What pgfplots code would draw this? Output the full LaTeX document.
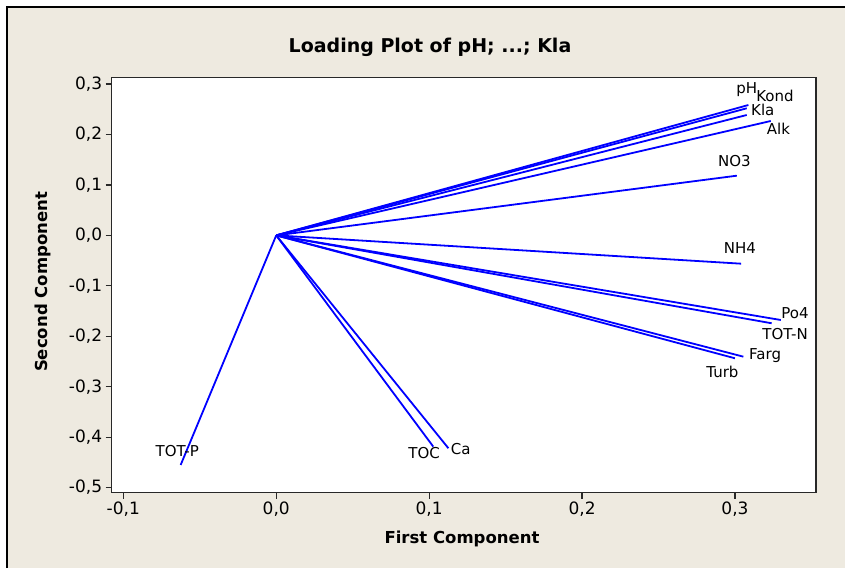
\documentclass[border=0pt]{standalone}
\usepackage{fontspec}
\setmainfont{DejaVu Sans}
\usepackage{pgfplots}
\pgfplotsset{compat=1.18}
\definecolor{bg}{RGB}{238,234,224}
\definecolor{frame}{RGB}{40,40,40}
\begin{document}
\begin{tikzpicture}
\path[use as bounding box] (0,0) rectangle (845pt,568pt);
\fill[white] (0,0) rectangle (845pt,568pt);
\fill[bg] (7pt,0) rectangle (845pt,561pt);
\draw[black, line width=1.5pt] (7pt,0) -- (7pt,561pt) -- (845pt,561pt);
\begin{axis}[
  at={(111.7pt,75.3pt)}, anchor=south west,
  scale only axis, width=704.3pt, height=415.4pt,
  xmin=-0.1076, xmax=0.353, ymin=-0.51, ymax=0.3133,
  axis background/.style={fill=white},
  axis line style={frame, line width=1.3pt},
  tick style={frame, line width=1.2pt},
  tick align=outside, major tick length=6pt,
  xtick={-0.1,0,0.1,0.2,0.3},
  ytick={-0.5,-0.4,-0.3,-0.2,-0.1,0,0.1,0.2,0.3},
  xtick pos=bottom, ytick pos=left,
  tick label style={font=\fontsize{17}{20}\selectfont},
  /pgf/number format/.cd, use comma, fixed, fixed zerofill, precision=1, assume math mode=true,
]
\addplot[blue, line width=1.8pt] coordinates {(0,0) (0.3088,0.2584)};
\addplot[blue, line width=1.8pt] coordinates {(0,0) (0.3077,0.2519)};
\addplot[blue, line width=1.8pt] coordinates {(0,0) (0.3077,0.2386)};
\addplot[blue, line width=1.8pt] coordinates {(0,0) (0.3234,0.2267)};
\addplot[blue, line width=1.8pt] coordinates {(0,0) (0.3012,0.1183)};
\addplot[blue, line width=1.8pt] coordinates {(0,0) (0.3040,-0.0561)};
\addplot[blue, line width=1.8pt] coordinates {(0,0) (0.3300,-0.1677)};
\addplot[blue, line width=1.8pt] coordinates {(0,0) (0.3240,-0.1742)};
\addplot[blue, line width=1.8pt] coordinates {(0,0) (0.3055,-0.2404)};
\addplot[blue, line width=1.8pt] coordinates {(0,0) (0.3000,-0.2436)};
\addplot[blue, line width=1.8pt] coordinates {(0,0) (-0.0625,-0.4550)};
\addplot[blue, line width=1.8pt] coordinates {(0,0) (0.1027,-0.4187)};
\addplot[blue, line width=1.8pt] coordinates {(0,0) (0.1126,-0.4219)};
\begin{scope}[every node/.style={font=\fontsize{15}{17}\selectfont, inner sep=0pt}]
\node at (axis cs:0.3077,0.2882) {pH};
\node at (axis cs:0.3262,0.2763) {Kond};
\node at (axis cs:0.3182,0.2485) {Kla};
\node at (axis cs:0.3284,0.2103) {Alk};
\node at (axis cs:0.2996,0.1480) {NO3};
\node at (axis cs:0.3033,-0.0256) {NH4};
\node at (axis cs:0.3393,-0.1532) {Po4};
\node at (axis cs:0.3328,-0.1954) {TOT-N};
\node at (axis cs:0.3197,-0.2390) {Farg};
\node at (axis cs:0.2918,-0.2701) {Turb};
\node at (axis cs:-0.0647,-0.4267) {TOT-P};
\node at (axis cs:0.0967,-0.4318) {TOC};
\node at (axis cs:0.1207,-0.4239) {Ca};
\end{scope}
\end{axis}
\node[font=\bfseries\fontsize{19}{22}\selectfont] at (430pt,521pt) {Loading Plot of pH; ...; Kla};
\node[font=\bfseries\fontsize{16.5}{19}\selectfont] at (462pt,29pt) {First Component};
\node[font=\bfseries\fontsize{16.5}{19}\selectfont, rotate=90] at (43pt,286pt) {Second Component};
\end{tikzpicture}
\end{document}
